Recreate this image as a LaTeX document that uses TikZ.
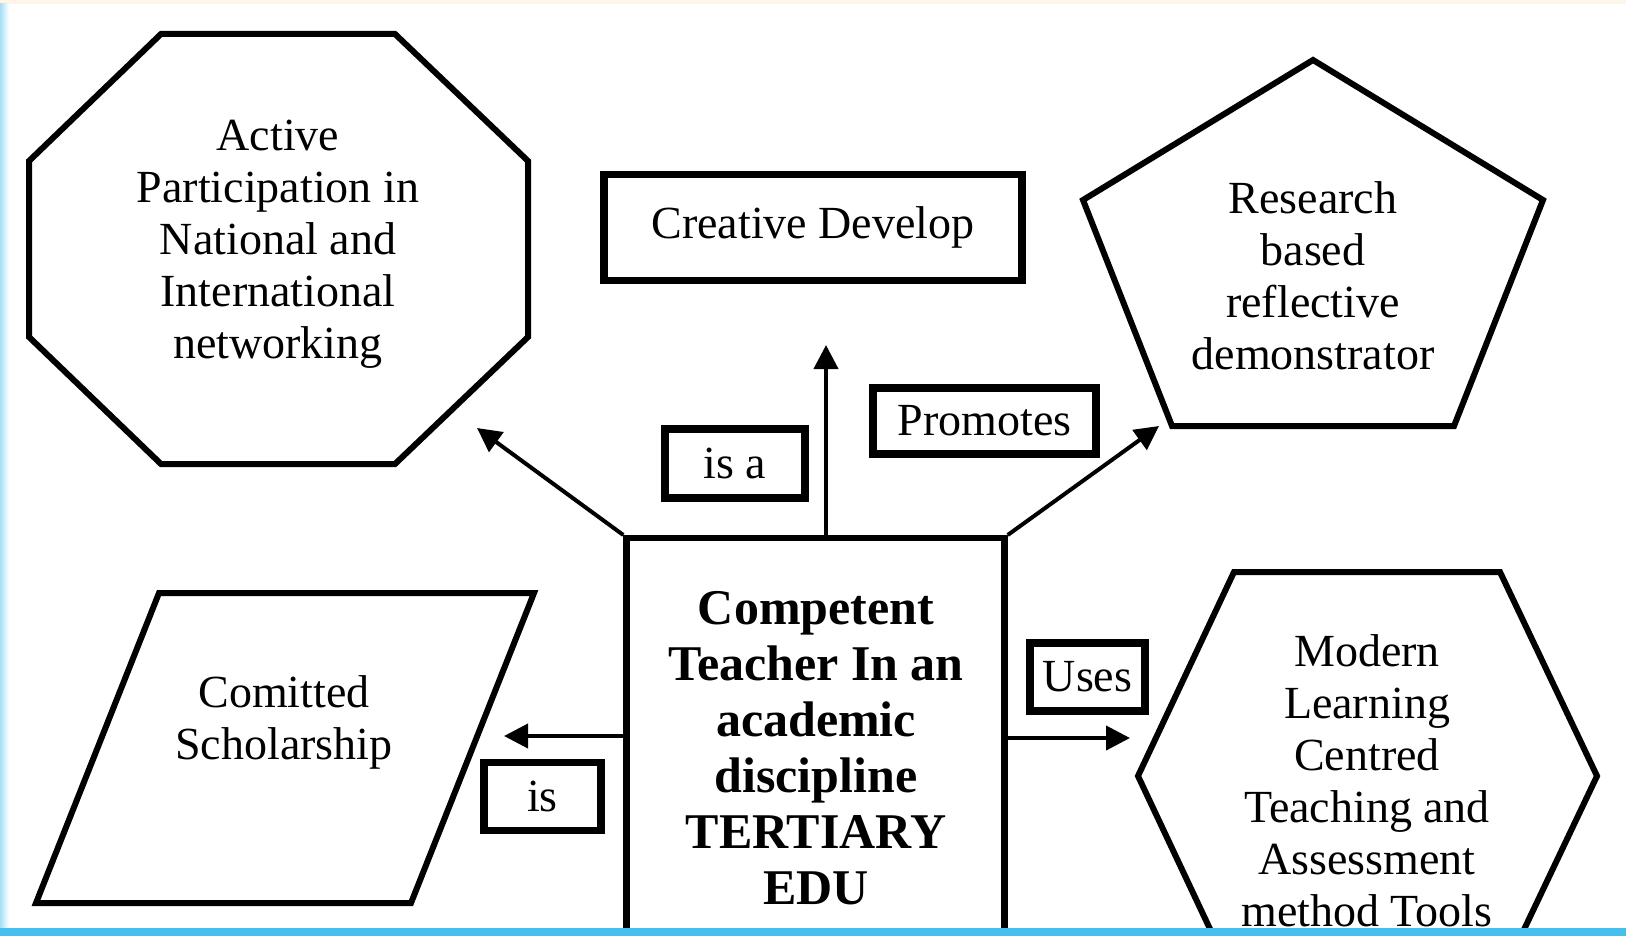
\documentclass[tikz,border=0pt]{standalone}
\usepackage{fontspec}
\setmainfont{Liberation Serif}
\usetikzlibrary{arrows.meta,calc}
\definecolor{creamtop}{HTML}{FDF5EA}
\definecolor{bluestrip}{HTML}{45BFEE}
\definecolor{leftedge}{HTML}{A9DDF5}
\begin{document}
\begin{tikzpicture}[x=0.5pt,y=-0.5pt,
  shapeline/.style={draw=black,line width=3pt,line join=miter},
  txt/.style={font=\fontsize{23}{26}\selectfont,align=center,inner sep=0pt},
  boldtxt/.style={font=\bfseries\fontsize{25}{28}\selectfont,align=center,inner sep=0pt},
  labelbox/.style={draw=black,line width=3.6pt,font=\fontsize{23}{26}\selectfont,inner sep=0pt},
  conn/.style={line width=2pt,-{Triangle[length=12pt,width=12pt]}}
]
\useasboundingbox (0,0) rectangle (1626,936);
\fill[white] (0,0) rectangle (1626,936);
\fill[creamtop] (0,0) rectangle (1626,4);
\shade[left color=leftedge,right color=white] (0,4) rectangle (9,928);

\begin{scope}
\clip (0,0) rectangle (1626,928);
% octagon
\draw[shapeline] (161,34) -- (395,34) -- (528,161) -- (528,337) -- (395,464) -- (161,464) -- (29,337) -- (29,161) -- cycle;
\node[txt] (octtext) at (278,244) {Active\\Participation in\\National and\\International\\networking};
% creative develop
\node[labelbox,minimum width=209pt,minimum height=53pt] (creative) at (813,227.5) {Creative Develop};
% pentagon
\draw[shapeline] (1313,60) -- (1543,200) -- (1454,426) -- (1172,426) -- (1083,200) -- cycle;
\node[txt] (pentext) at (1313,276) {Research\\based\\reflective\\demonstrator};
% parallelogram
\draw[shapeline] (159,593) -- (534,593) -- (411,903) -- (36,903) -- cycle;
\node[txt] (partext) at (284,722) {Comitted\\Scholarship};
% hexagon
\draw[shapeline] (1234,572) -- (1500,572) -- (1597,776) -- (1500,980) -- (1234,980) -- (1138,776) -- cycle;
\node[txt] (hextext) at (1367,781) {Modern\\Learning\\Centred\\Teaching and\\Assessment\\method Tools};
% core
\node[draw=black,line width=3.2pt,minimum width=189pt,minimum height=300pt,anchor=north,inner sep=0pt] (core) at (815.5,535) {};
\node[boldtxt] (coretext) at (816,748) {Competent\\Teacher In an\\academic\\discipline\\TERTIARY\\EDU};
% label boxes
\node[labelbox,minimum width=70pt,minimum height=34.5pt] (isa) at (735,463.5) {is a};
\node[labelbox,minimum width=111.5pt,minimum height=33pt] (promotes) at (984.5,421) {Promotes};
\node[labelbox,minimum width=57.5pt,minimum height=34pt] (uses) at (1087.5,677) {Uses};
\node[labelbox,minimum width=58.5pt,minimum height=34pt] (is) at (542.5,796.5) {is};
% arrow ends
\coordinate (upE) at (826,345);
\coordinate (luE) at (477,428);
\coordinate (ruE) at (1159,426);
\coordinate (lE) at (504,736);
\coordinate (rE) at (1130,738);
\draw[conn] (core.north -| upE) -- (upE);
\draw[conn] (core.north west) -- (luE);
\draw[conn] (core.north east) -- (ruE);
\draw[conn] (core.west |- lE) -- (lE);
\draw[conn] (core.east |- rE) -- (rE);
\end{scope}
\fill[bluestrip] (0,928) rectangle (1626,936);
\end{tikzpicture}
\end{document}
